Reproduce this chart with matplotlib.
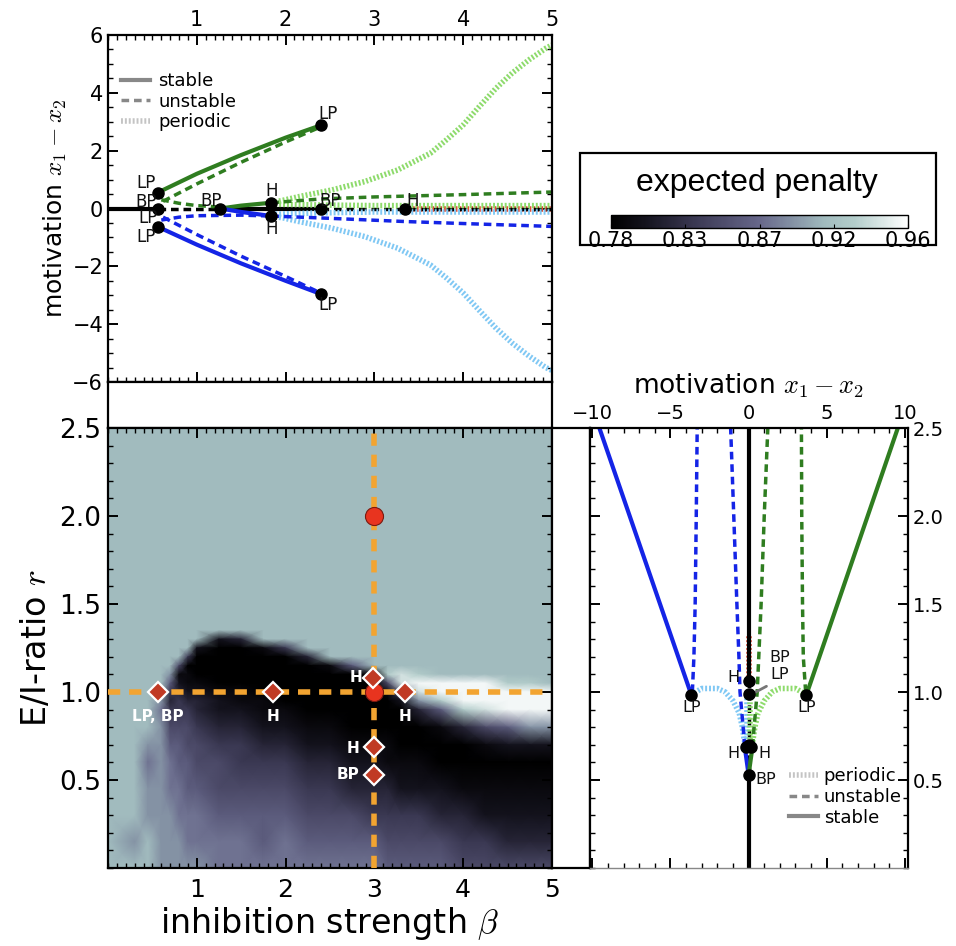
import numpy as np
import matplotlib
matplotlib.use('Agg')
import matplotlib.pyplot as plt
from matplotlib.colors import LinearSegmentedColormap, Normalize
from matplotlib.cm import ScalarMappable
from matplotlib.lines import Line2D
from matplotlib.patches import Rectangle
from matplotlib.ticker import MultipleLocator

plt.rcParams['font.family'] = ['DejaVu Sans']
plt.rcParams['mathtext.fontset'] = 'cm'

GREEN = '#2f7d20'
BLUE = '#1424e6'
LGREEN = '#8edb6c'
LBLUE = '#80c8f4'
RED = '#dd4a33'
ORANGE = '#f2a431'

STABLE = dict(ls='-', lw=3)
UNSTABLE = dict(ls=(0, (2.2, 1.4)), lw=2.5)
PERIODIC = dict(ls=(0, (0.35, 0.35)), lw=4)

# ---------- top panel: motivation vs beta (r = 1) ----------
sym_stable_b = [[0.0, 0.56], [1.265, 2.40]]
sym_unstable_b = [[0.56, 1.265], [2.40, 5.0]]
sym_periodic_b = [3.34, 5.0]

g_stable_b = [0.56, 1.0, 1.5, 2.0, 2.40]
g_stable_m = [0.55, 1.2, 1.85, 2.45, 2.88]
g_stable2_b = [1.265, 1.5, 1.84]
g_stable2_m = [0.0, 0.1, 0.2]
g_unst_b = [0.62, 1.0, 1.5, 2.0, 2.38]
g_unst_m = [0.25, 0.85, 1.6, 2.3, 2.8]
g_unst2_b = [0.6, 0.8, 1.0, 1.265]
g_unst2_m = [0.3, 0.18, 0.1, 0.05]
g_unst3_b = [1.84, 2.4, 3.0, 4.0, 5.0]
g_unst3_m = [0.2, 0.33, 0.4, 0.48, 0.57]
g_per_b = [1.84, 1.98, 2.15, 2.52, 2.89, 3.26, 3.63, 3.81, 4.0, 4.18, 4.37, 4.55, 4.74, 4.93, 5.0]
g_per_m = [0.2, 0.29, 0.41, 0.64, 0.93, 1.33, 1.91, 2.37, 2.89, 3.52, 4.16, 4.68, 5.14, 5.54, 5.65]
g_per2_b = [1.84, 2.4, 3.0, 4.0, 5.0]
g_per2_m = [0.15, 0.12, 0.1, 0.1, 0.1]

b_stable_b = [0.56, 1.0, 1.5, 2.0, 2.40]
b_stable_m = [-0.63, -1.25, -1.9, -2.5, -2.96]
b_stable2_b = [1.265, 1.5, 1.84]
b_stable2_m = [0.0, -0.12, -0.26]
b_unst_b = [0.62, 1.0, 1.5, 2.0, 2.38]
b_unst_m = [-0.3, -0.9, -1.65, -2.35, -2.9]
b_unst2_b = [0.6, 0.8, 1.0, 1.5, 1.84]
b_unst2_m = [-0.4, -0.3, -0.25, -0.23, -0.26]
b_unst3_b = [1.84, 2.5, 3.34, 4.0, 5.0]
b_unst3_m = [-0.26, -0.34, -0.45, -0.52, -0.62]
b_per_b = [1.84, 1.98, 2.15, 2.52, 2.89, 3.26, 3.63, 3.81, 4.0, 4.18, 4.37, 4.55, 4.74, 4.93, 5.0]
b_per_m = [-0.26, -0.33, -0.45, -0.68, -0.97, -1.37, -1.95, -2.4, -2.92, -3.52, -4.14, -4.65, -5.1, -5.5, -5.6]
b_per2_b = [1.84, 2.4, 3.0, 4.0, 5.0]
b_per2_m = [-0.2, -0.15, -0.12, -0.12, -0.12]

top_pts_b = [0.56, 0.56, 0.56, 1.265, 1.84, 1.84, 2.40, 2.40, 2.40, 3.34]
top_pts_m = [0.55, 0.0, -0.63, 0.0, 0.2, -0.26, 2.88, 0.0, -2.96, 0.0]
top_lbl = ['LP', 'BP', 'LP', 'LP', 'BP', 'H', 'H', 'LP', 'LP', 'BP', 'H']
top_lbl_b = [0.43, 0.43, 0.45, 0.43, 1.16, 1.84, 1.84, 2.48, 2.48, 2.50, 3.43]
top_lbl_m = [0.89, 0.24, -0.34, -1.0, 0.26, 0.62, -0.72, 3.27, -3.34, 0.26, 0.26]

# ---------- heat map: expected penalty over (beta, r) ----------
hm_beta = [0, 0.3, 0.45, 0.6, 0.7, 0.8, 0.9, 1.0, 1.25, 1.5, 1.75, 2.0, 2.25,
           2.5, 2.75, 3.0, 3.15, 3.3, 3.5, 3.75, 4.0, 4.25, 4.5, 4.75, 5.0]
hm_r = [2.5, 2.0, 1.5, 1.35, 1.3, 1.25, 1.2, 1.15, 1.1, 1.05, 1.0, 0.95,
        0.9, 0.8, 0.7, 0.6, 0.45, 0.3, 0.15, 0.0]
hm_rows = [
    "9999999999999999999999999",
    "9999999999999999999999999",
    "9999999999999999999999999",
    "9999999999999999999999999",
    "9999999923999999999999999",
    "9999999200149999999999999",
    "9999994000003999999999999",
    "9999950000000169999999999",
    "9999811000000001aba999999",
    "99996211000000005bccccaa9",
    "999943221100000016bcccccc",
    "9998343321100000028accccc",
    "99974443221100000036abccc",
    "9998555433221100000135688",
    "9988665544332211100001222",
    "9978766554443322111000000",
    "9988776655554433322211111",
    "9988877766665554444332222",
    "9898887777676666555544333",
    "9998888877777777666655555",
]
hm_level = {'0': 0.78, '1': 0.79, '2': 0.80, '3': 0.815, '4': 0.83,
            '5': 0.845, '6': 0.86, '7': 0.875, '8': 0.89, '9': 0.91,
            'a': 0.925, 'b': 0.94, 'c': 0.955}

circ_b = [3.0, 3.0]
circ_r = [2.0, 1.0]
dia_b = [0.56, 1.855, 2.98, 3.35, 3.0, 3.0]
dia_r = [1.0, 1.0, 1.08, 1.0, 0.69, 0.53]
dia_lbl = ['LP, BP', 'H', 'H', 'H', 'H', 'BP']
dia_lbl_b = [0.56, 1.855, 2.79, 3.35, 2.76, 2.70]
dia_lbl_r = [0.86, 0.86, 1.08, 0.86, 0.68, 0.53]
beta_cut = 3.0
r_cut = 1.0

# ---------- right panel: motivation vs r (beta = 3) ----------
r_sym_stable = [[0.0, 0.53], [1.06, 2.5]]
r_sym_unstable = [0.53, 1.06]
r_sym_periodic = [1.06, 1.32]
rb_stable_m = [-3.67, -9.55]
rb_stable_r = [0.985, 2.5]
rg_stable_m = [3.7, 9.55]
rg_stable_r = [0.985, 2.5]
rb_stable2_m = [0.0, -0.25]
rb_stable2_r = [0.53, 0.69]
rg_stable2_m = [0.0, 0.25]
rg_stable2_r = [0.53, 0.69]
rb_unst_m = [-3.6, -3.5, -3.42, -3.35, -3.29]
rb_unst_r = [1.0, 1.2, 1.5, 2.0, 2.5]
rg_unst_m = [3.65, 3.5, 3.45, 3.4, 3.38]
rg_unst_r = [1.0, 1.2, 1.5, 2.0, 2.5]
rb_unst2_m = [-0.25, -0.35, -0.45, -0.55, -0.62, -0.75, -0.95, -1.15]
rb_unst2_r = [0.69, 0.8, 0.9, 1.0, 1.2, 1.5, 2.0, 2.5]
rg_unst2_m = [0.25, 0.35, 0.45, 0.55, 0.65, 0.8, 1.0, 1.23]
rg_unst2_r = [0.69, 0.8, 0.9, 1.0, 1.2, 1.5, 2.0, 2.5]
rb_per_m = [-3.67, -3.0, -2.0, -1.5, -1.0, -0.6, -0.4, -0.3, -0.2]
rb_per_r = [0.985, 1.02, 1.02, 1.0, 0.95, 0.88, 0.8, 0.74, 0.69]
rg_per_m = [3.7, 3.0, 2.0, 1.5, 1.0, 0.6, 0.4, 0.3, 0.2]
rg_per_r = [0.985, 1.02, 1.02, 1.0, 0.95, 0.88, 0.8, 0.74, 0.69]
rb_per2_m = [-0.12, -0.12]
rb_per2_r = [0.69, 1.0]
rg_per2_m = [0.12, 0.12]
rg_per2_r = [0.69, 1.0]

right_pts_m = [0.0, 0.0, -3.67, 3.7, -0.15, 0.15, 0.0, 0.0]
right_pts_r = [1.06, 0.99, 0.985, 0.985, 0.69, 0.69, 0.70, 0.53]
right_lbl = ['H', 'BP', 'LP', 'LP', 'LP', 'H', 'H']
right_lbl_m = [-1.0, 2.0, 2.0, -3.65, 3.7, -1.0, 1.0]
right_lbl_r = [1.085, 1.195, 1.1, 0.91, 0.91, 0.65, 0.65]
bp_lbl = 'BP'
bp_lbl_pos = (0.45, 0.50)

# colour bar
cb_ticks = [0.78, 0.825, 0.87, 0.915, 0.96]
cb_labels = ['0.78', '0.83', '0.87', '0.92', '0.96']

cmap = LinearSegmentedColormap.from_list(
    'penalty', [(0.0, '#000000'), (0.12, '#15141f'), (0.28, '#3a3852'),
                (0.5, '#67678a'), (0.72, '#a1bbbe'), (0.82, '#b3cdcb'),
                (1.0, '#ffffff')])

fig = plt.figure(figsize=(9.56, 9.46), dpi=100)


def px_box(x0, y0, x1, y1):
    return [x0 / 956, 1 - y1 / 946, (x1 - x0) / 956, (y1 - y0) / 946]


ax_top = fig.add_axes(px_box(108, 35, 552, 382))
ax_gap = fig.add_axes(px_box(108, 382, 552, 428))
ax_map = fig.add_axes(px_box(108, 428, 552, 868))
ax_gap2 = fig.add_axes(px_box(552, 428, 590, 868))
ax_right = fig.add_axes(px_box(590, 428, 908, 868))
cax = fig.add_axes(px_box(611, 215, 908, 228))

for a in [ax_top, ax_gap, ax_map, ax_gap2, ax_right]:
    for s in a.spines.values():
        s.set_linewidth(1.6)
for a in [ax_gap, ax_gap2]:
    a.set_xticks([])
    a.set_yticks([])

# ---- top panel ----
ax_top.plot(sym_periodic_b, [0, 0], color=RED, **PERIODIC)
for seg in sym_stable_b:
    ax_top.plot(seg, [0, 0], color='k', **STABLE)
for seg in sym_unstable_b:
    ax_top.plot(seg, [0, 0], color='k', **UNSTABLE)
ax_top.plot(g_per_b, g_per_m, color=LGREEN, **PERIODIC)
ax_top.plot(g_per2_b, g_per2_m, color=LGREEN, **PERIODIC)
ax_top.plot(b_per_b, b_per_m, color=LBLUE, **PERIODIC)
ax_top.plot(b_per2_b, b_per2_m, color=LBLUE, **PERIODIC)
ax_top.plot(g_stable_b, g_stable_m, color=GREEN, **STABLE)
ax_top.plot(g_stable2_b, g_stable2_m, color=GREEN, **STABLE)
ax_top.plot(g_unst_b, g_unst_m, color=GREEN, **UNSTABLE)
ax_top.plot(g_unst2_b, g_unst2_m, color=GREEN, **UNSTABLE)
ax_top.plot(g_unst3_b, g_unst3_m, color=GREEN, **UNSTABLE)
ax_top.plot(b_stable_b, b_stable_m, color=BLUE, **STABLE)
ax_top.plot(b_stable2_b, b_stable2_m, color=BLUE, **STABLE)
ax_top.plot(b_unst_b, b_unst_m, color=BLUE, **UNSTABLE)
ax_top.plot(b_unst2_b, b_unst2_m, color=BLUE, **UNSTABLE)
ax_top.plot(b_unst3_b, b_unst3_m, color=BLUE, **UNSTABLE)
ax_top.plot(top_pts_b, top_pts_m, 'o', color='k', ms=8, zorder=6)
for t, x, y in zip(top_lbl, top_lbl_b, top_lbl_m):
    ax_top.text(x, y, t, fontsize=12, ha='center', va='center', color='#111111', zorder=7)

ax_top.set_xlim(0, 5)
ax_top.set_ylim(-6, 6)
ax_top.set_xticks([1, 2, 3, 4, 5])
ax_top.set_yticks([-6, -4, -2, 0, 2, 4, 6])
ax_top.xaxis.set_minor_locator(MultipleLocator(0.1))
ax_top.yaxis.set_minor_locator(MultipleLocator(0.5))
ax_top.tick_params(which='both', direction='in', top=True, bottom=True, left=True,
                   right=True, labeltop=True, labelbottom=False, labelsize=15)
ax_top.tick_params(which='major', length=7, width=1.4)
ax_top.tick_params(which='minor', length=3.5, width=1)
ax_top.set_ylabel('motivation $x_1 - x_2$', fontsize=18, labelpad=2)

leg_handles = [Line2D([], [], color='#888888', **STABLE),
               Line2D([], [], color='#888888', **UNSTABLE),
               Line2D([], [], color='#c4c4c4', **PERIODIC)]
ax_top.legend(leg_handles, ['stable', 'unstable', 'periodic'], loc='upper left',
              bbox_to_anchor=(0.0, 0.93), frameon=False, fontsize=13,
              handlelength=1.6, labelspacing=0.15, handletextpad=0.5, borderpad=0.2)

# ---- heat map ----
Z = np.array([[hm_level[c] for c in row] for row in hm_rows])
ax_map.pcolormesh(hm_beta, hm_r, Z, shading='gouraud', cmap=cmap,
                  vmin=0.78, vmax=0.96, rasterized=True)
ax_map.axhline(r_cut, color=ORANGE, lw=4, ls=(0, (2.2, 1.6)), zorder=3)
ax_map.axvline(beta_cut, color=ORANGE, lw=4, ls=(0, (2.2, 1.6)), zorder=3)
ax_map.plot(circ_b, circ_r, 'o', ms=13, mfc='#e8341f', mec='#7a1a10', mew=0.8, zorder=5)
ax_map.plot(dia_b, dia_r, 'D', ms=10, mfc='#c03a24', mec='white', mew=1.6, zorder=6)
for t, x, y in zip(dia_lbl, dia_lbl_b, dia_lbl_r):
    ax_map.text(x, y, t, fontsize=11, fontweight='bold', color='white',
                ha='center', va='center', zorder=7)
ax_map.set_xlim(0, 5)
ax_map.set_ylim(0, 2.5)
ax_map.set_xticks([1, 2, 3, 4, 5])
ax_map.set_yticks([0.5, 1.0, 1.5, 2.0, 2.5])
ax_map.set_yticklabels(['0.5', '1.0', '1.5', '2.0', '2.5'])
ax_map.xaxis.set_minor_locator(MultipleLocator(0.1))
ax_map.yaxis.set_minor_locator(MultipleLocator(0.1))
ax_map.tick_params(which='both', direction='in', top=True, right=True)
ax_map.tick_params(axis='x', labelsize=18, pad=7)
ax_map.tick_params(axis='y', labelsize=19, pad=5)
ax_map.tick_params(which='major', length=7, width=1.4)
ax_map.tick_params(which='minor', length=3.5, width=1)
ax_map.set_xlabel(r'inhibition strength $\beta$', fontsize=24, labelpad=2)
ax_map.set_ylabel('E/I-ratio $r$', fontsize=24, labelpad=4)

# ---- right panel ----
ax_right.plot([0, 0], r_sym_periodic, color=RED, **PERIODIC)
for seg in r_sym_stable:
    ax_right.plot([0, 0], seg, color='k', **STABLE)
ax_right.plot([0, 0], r_sym_unstable, color='k', **UNSTABLE)
ax_right.plot(rb_per_m, rb_per_r, color=LBLUE, **PERIODIC)
ax_right.plot(rg_per_m, rg_per_r, color=LGREEN, **PERIODIC)
ax_right.plot(rb_per2_m, rb_per2_r, color=LBLUE, **PERIODIC)
ax_right.plot(rg_per2_m, rg_per2_r, color=LGREEN, **PERIODIC)
ax_right.plot(rb_stable_m, rb_stable_r, color=BLUE, **STABLE)
ax_right.plot(rg_stable_m, rg_stable_r, color=GREEN, **STABLE)
ax_right.plot(rb_stable2_m, rb_stable2_r, color=BLUE, **STABLE)
ax_right.plot(rg_stable2_m, rg_stable2_r, color=GREEN, **STABLE)
ax_right.plot(rb_unst_m, rb_unst_r, color=BLUE, **UNSTABLE)
ax_right.plot(rg_unst_m, rg_unst_r, color=GREEN, **UNSTABLE)
ax_right.plot(rb_unst2_m, rb_unst2_r, color=BLUE, **UNSTABLE)
ax_right.plot(rg_unst2_m, rg_unst2_r, color=GREEN, **UNSTABLE)
ax_right.plot(right_pts_m, right_pts_r, 'o', color='k', ms=8, zorder=6)
for t, x, y in zip(right_lbl, right_lbl_m, right_lbl_r):
    ax_right.text(x, y, t, fontsize=11.5, ha='center', va='center', color='#111111', zorder=7)
ax_right.text(bp_lbl_pos[0], bp_lbl_pos[1], bp_lbl, fontsize=11.5, ha='left',
              va='center', color='#111111', zorder=7)
ax_right.annotate('', xy=(0.25, 0.99), xytext=(1.3, 1.04),
                  arrowprops=dict(arrowstyle='-', color='#777777', lw=2))

ax_right.set_xlim(-10.15, 10.2)
ax_right.set_ylim(0, 2.5)
ax_right.set_xticks([-10, -5, 0, 5, 10])
ax_right.set_yticks([0.5, 1.0, 1.5, 2.0, 2.5])
ax_right.set_yticklabels(['0.5', '1.0', '1.5', '2.0', '2.5'])
ax_right.xaxis.set_minor_locator(MultipleLocator(1))
ax_right.yaxis.set_minor_locator(MultipleLocator(0.1))
ax_right.tick_params(which='both', direction='in', top=True, bottom=True, left=True,
                     right=True, labeltop=True, labelbottom=False, labelright=True,
                     labelleft=False, labelsize=14)
ax_right.tick_params(which='major', length=7, width=1.4)
ax_right.tick_params(which='minor', length=3.5, width=1)
ax_right.spines['bottom'].set_color('#888888')
ax_right.spines['bottom'].set_linewidth(1.0)
ax_right.set_xlabel('motivation $x_1 - x_2$', fontsize=19, labelpad=8)
ax_right.xaxis.set_label_position('top')

r_handles = [Line2D([], [], color='#c4c4c4', **PERIODIC),
             Line2D([], [], color='#888888', **UNSTABLE),
             Line2D([], [], color='#888888', **STABLE)]
ax_right.legend(r_handles, ['periodic', 'unstable', 'stable'], loc='lower right',
                bbox_to_anchor=(1.02, 0.065), frameon=False, fontsize=13,
                handlelength=1.6, labelspacing=0.15, handletextpad=0.3, borderpad=0.2)

# ---- colour bar box ----
fig.patches.append(Rectangle((580 / 956, 1 - 245 / 946), 356 / 956, 92 / 946,
                             transform=fig.transFigure, fill=False, lw=1.6,
                             ec='k', zorder=0))
fig.text(757 / 956, 1 - 183 / 946, 'expected penalty', ha='center', va='center',
         fontsize=23, family='Liberation Sans')
sm = ScalarMappable(norm=Normalize(0.78, 0.96), cmap=cmap)
cb = fig.colorbar(sm, cax=cax, orientation='horizontal')
cb.set_ticks(cb_ticks)
cb.set_ticklabels(cb_labels)
cb.outline.set_linewidth(1.0)
cax.tick_params(direction='in', length=3, labelsize=15, pad=2)

fig.savefig('out.png', dpi=100)
